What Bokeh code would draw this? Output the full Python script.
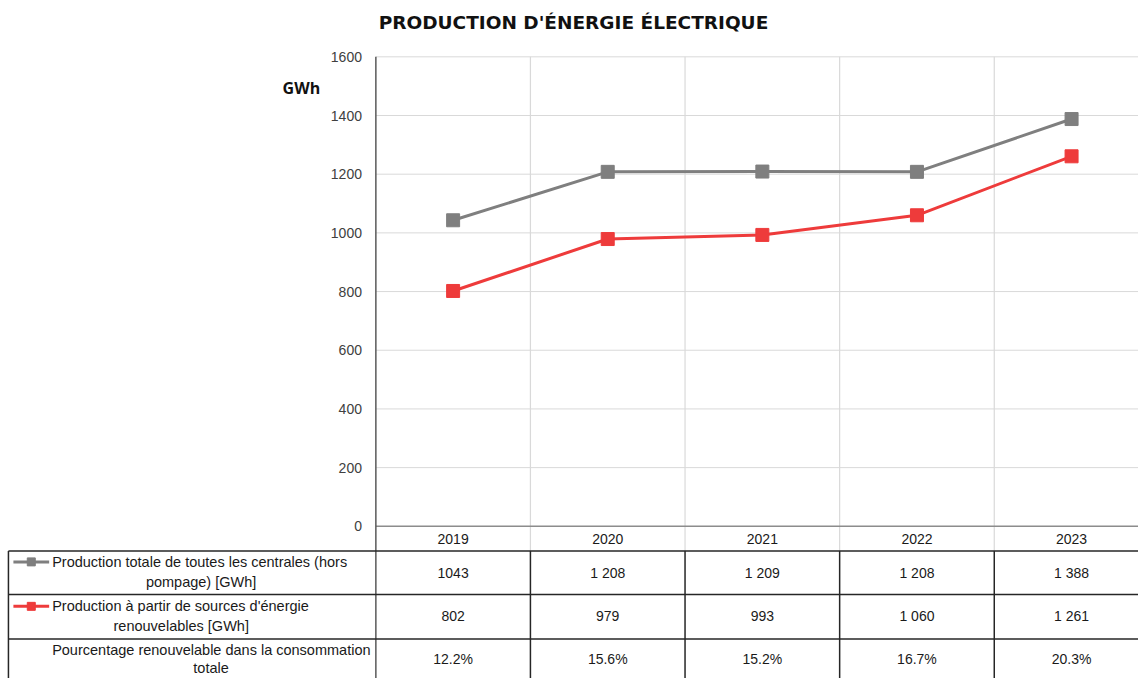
from bokeh.plotting import figure
from bokeh.models import Range1d
from bokeh.core.properties import value
from bokeh.embed import file_html
from bokeh.resources import INLINE

# ---- data ----
years = ["2019", "2020", "2021", "2022", "2023"]
total = [1043, 1208, 1209, 1208, 1388]
renew = [802, 979, 993, 1060, 1261]
pct = [12.2, 15.6, 15.2, 16.7, 20.3]
total_lbl = ["1043", "1 208", "1 209", "1 208", "1 388"]
renew_lbl = ["802", "979", "993", "1 060", "1 261"]
pct_lbl = [f"{v}%" for v in pct]
yticks = [0, 200, 400, 600, 800, 1000, 1200, 1400, 1600]
title = "PRODUCTION D'ÉNERGIE ÉLECTRIQUE"
unit = "GWh"
row_labels = [
    ["Production totale de toutes les centrales (hors", "pompage) [GWh]"],
    ["Production à partir de sources d'énergie", "renouvelables [GWh]"],
    ["Pourcentage renouvelable dans la consommation", "totale"],
]

GRAY = "#7f7f7f"
RED = "#ee3b3b"
FONT = value("Liberation Sans")

# ---- layout helpers (layout pixel -> data coordinates) ----
COLW = 155.7
X0 = 455.8
PXY = 0.296875
def X(px):
    return (px - X0) / COLW
def Y(py):
    return (532 - py) / PXY

xs = list(range(len(years)))

p = figure(width=1138, height=678, output_backend="svg", toolbar_location=None,
           x_axis_type=None, y_axis_type=None, min_border=0,
           x_range=Range1d(X(0), X(1146)), y_range=Range1d(Y(686), Y(0)))
p.outline_line_color = None
p.background_fill_color = "white"
p.border_fill_color = "white"

xl, xr = X(378), X(1150)

# horizontal grid
gt = [t for t in yticks if t > 0]
p.segment(x0=[xl] * len(gt), y0=gt, x1=[xr] * len(gt), y1=gt,
          line_color="#d9d9d9", line_width=1)
# vertical grid (category boundaries), continuing into header row
bounds = [i + 0.5 for i in xs[:-1]]
p.segment(x0=bounds, y0=[1600] * len(bounds), x1=bounds, y1=[Y(557)] * len(bounds),
          line_color="#d9d9d9", line_width=1.2)
# x axis line
p.segment(x0=[xl], y0=[0], x1=[xr], y1=[0], line_color="#8c8c8c", line_width=1.5)
# y axis line (also table border)
p.segment(x0=[xl], y0=[1600], x1=[xl], y1=[Y(700)], line_color="#595959", line_width=1.5)

# table lines
hl = [Y(557), Y(601), Y(646)]
p.segment(x0=[X(8)] * 3, y0=hl, x1=[xr] * 3, y1=hl, line_color="#262626", line_width=1.5)
p.segment(x0=[X(8)], y0=[Y(557)], x1=[X(8)], y1=[Y(700)], line_color="#262626", line_width=1.5)
p.segment(x0=bounds, y0=[Y(557)] * len(bounds), x1=bounds, y1=[Y(700)] * len(bounds),
          line_color="#262626", line_width=1.5)

# series
p.line(xs, total, line_color=GRAY, line_width=3)
p.scatter(xs, total, marker="square", size=13, fill_color=GRAY, line_color=GRAY)
p.line(xs, renew, line_color=RED, line_width=3)
p.scatter(xs, renew, marker="square", size=13, fill_color=RED, line_color=RED)

# y tick labels
p.text(x=[X(364)] * len(yticks), y=yticks, text=[str(t) for t in yticks],
       text_font=FONT, text_font_size="14px", text_color="#404040",
       text_align="right", text_baseline="middle")

# title and unit
p.text(x=[X(577)], y=[Y(22)], text=[title], text_font=value("DejaVu Sans"),
       text_font_size="18.5px", text_font_style="bold", text_color="#111111",
       text_align="center", text_baseline="middle")
p.text(x=[X(303)], y=[Y(89)], text=[unit], text_font=value("Open Sans"),
       text_font_size="16px", text_font_style="bold", text_color="#111111",
       text_align="center", text_baseline="middle")

# table text
def row_text(vals, py):
    p.text(x=xs, y=[Y(py)] * len(xs), text=vals, text_font=FONT,
           text_font_size="14px", text_color="#1a1a1a",
           text_align="center", text_baseline="middle")
row_text(years, 545)
row_text(total_lbl, 579)
row_text(renew_lbl, 623)
row_text(pct_lbl, 666)

# row labels
centers = [202, 182, 212]
tops = [568, 613, 657]
gaps = [20, 20, 18]
for lines, c, t, g in zip(row_labels, centers, tops, gaps):
    p.text(x=[X(52)], y=[Y(t)], text=[lines[0]], text_font=FONT, text_font_size="14.5px",
           text_color="#1a1a1a", text_align="left", text_baseline="middle")
    p.text(x=[X(c)], y=[Y(t + g)], text=[lines[1]], text_font=FONT, text_font_size="14.5px",
           text_color="#1a1a1a", text_align="center", text_baseline="middle")

# legend keys
for col, py in [(GRAY, 568), (RED, 613)]:
    p.line([X(13), X(49)], [Y(py), Y(py)], line_color=col, line_width=3)
    p.scatter([X(31)], [Y(py)], marker="square", size=8, fill_color=col, line_color=col)

open("out.html", "w").write(file_html(p, INLINE))
